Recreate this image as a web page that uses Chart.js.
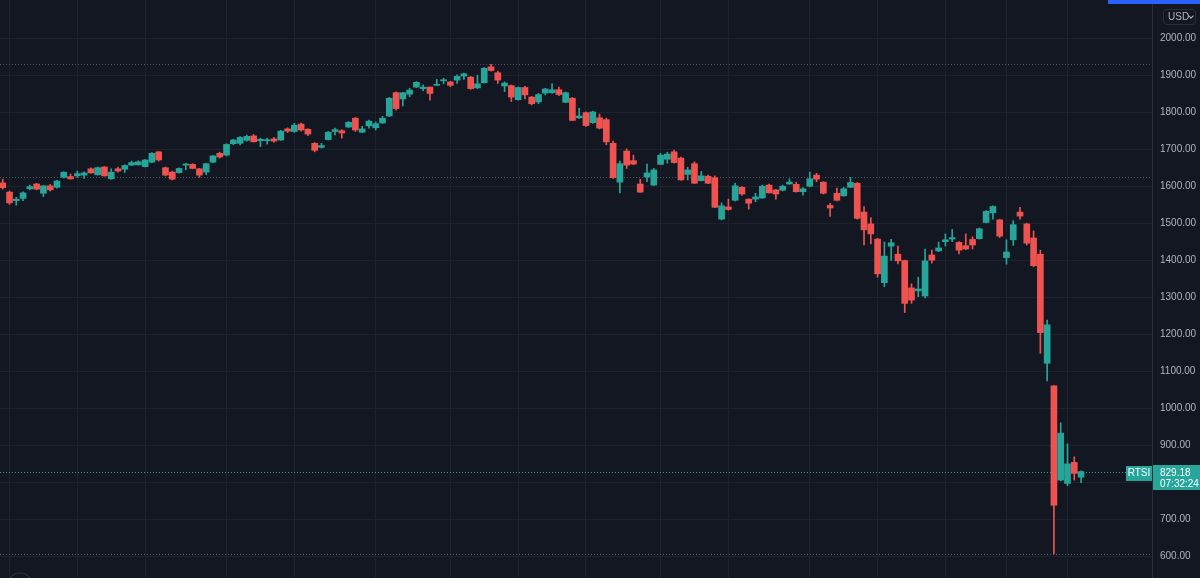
<!DOCTYPE html>
<html>
<head>
  <meta charset="utf-8">
  <title>RTSI</title>
  <script src="https://cdn.jsdelivr.net/npm/chart.js@4.4.0/dist/chart.umd.min.js"></script>
  <style>
    html, body { margin: 0; padding: 0; background: #131722; overflow: hidden; }
    #wrap { position: relative; width: 1200px; height: 578px; }
    #topbar { position: absolute; left: 1108px; top: 0; width: 92px; height: 4px; background: #2962ff; }
    #usd {
      position: absolute; left: 1163px; top: 9px; width: 33px; height: 16px;
      box-sizing: border-box; border: 1px solid #2a2e39; border-radius: 4px;
      color: #b2b5be; font: 10px "Liberation Sans", sans-serif; line-height: 14px; padding-left: 4px;
    }
    #usd i {
      position: absolute; left: 25px; top: 4px; width: 3px; height: 3px;
      border-right: 1px solid #b2b5be; border-bottom: 1px solid #b2b5be; transform: rotate(45deg);
    }
  </style>
</head>
<body>
<div id="wrap">
  <canvas id="chart" width="1200" height="578"></canvas>
  <div id="topbar"></div>
  <div id="usd">USD<i></i></div>
</div>

<script>
  // daily candles, RTSI (USD)
  var open = [1610,1585,1562,1568,1594,1607,1582,1602,1598,1625,1627,1629,1631,1648,1632,1653,1621,1648,1647,1658,
              1659,1654,1666,1694,1651,1639,1638,1658,1660,1648,1639,1666,1690,1685,1716,1717,1725,1737,1724,1724,
              1729,1726,1756,1749,1769,1755,1717,1706,1727,1749,1751,1761,1785,1747,1764,1759,1772,1791,1854,1837,
              1850,1869,1865,1869,1874,1886,1883,1888,1899,1896,1867,1881,1924,1908,1872,1873,1835,1868,1842,1829,
              1853,1854,1862,1828,1839,1786,1800,1773,1786,1781,1717,1612,1696,1670,1607,1626,1604,1660,1674,1694,
              1677,1633,1662,1616,1628,1624,1512,1545,1563,1598,1566,1566,1569,1604,1591,1590,1607,1606,1586,1601,
              1631,1612,1549,1582,1575,1598,1609,1531,1499,1458,1340,1439,1417,1400,1326,1318,1304,1415,1426,1451,
              1458,1449,1440,1457,1459,1503,1529,1510,1408,1456,1531,1499,1461,1417,1122,1061,806,797,854,814];
  var high = [1620,1588,1571,1586,1604,1609,1603,1606,1617,1640,1634,1642,1640,1651,1653,1654,1648,1653,1659,1669,
              1670,1673,1692,1695,1653,1642,1651,1663,1662,1649,1663,1684,1693,1716,1728,1735,1739,1741,1731,1731,
              1733,1752,1759,1771,1772,1757,1719,1717,1749,1758,1754,1776,1787,1763,1780,1775,1790,1841,1856,1855,
              1866,1884,1875,1870,1890,1893,1885,1902,1907,1898,1901,1922,1931,1912,1883,1875,1869,1871,1844,1852,
              1866,1878,1869,1856,1841,1812,1802,1804,1796,1785,1723,1669,1702,1685,1620,1661,1649,1690,1693,1699,
              1680,1652,1667,1641,1631,1629,1556,1566,1609,1600,1567,1582,1604,1607,1592,1604,1621,1612,1597,1639,
              1636,1613,1555,1596,1598,1625,1611,1546,1516,1460,1450,1457,1439,1401,1337,1355,1431,1428,1450,1472,
              1484,1451,1472,1464,1488,1535,1548,1511,1456,1508,1544,1501,1480,1428,1239,1062,961,904,869,831];
  var low = [1593,1552,1550,1562,1591,1591,1573,1588,1596,1623,1620,1625,1622,1636,1631,1628,1620,1639,1638,1657,
             1658,1653,1665,1669,1629,1618,1636,1645,1648,1625,1632,1665,1677,1683,1713,1713,1723,1721,1708,1715,
             1720,1725,1746,1747,1750,1738,1694,1704,1726,1740,1731,1760,1749,1746,1758,1753,1771,1789,1807,1818,
             1843,1868,1859,1834,1873,1878,1870,1879,1890,1863,1865,1880,1912,1879,1857,1830,1834,1837,1821,1824,
             1848,1852,1846,1827,1778,1784,1763,1771,1756,1713,1622,1583,1649,1659,1584,1613,1603,1659,1663,1663,
             1617,1618,1608,1615,1608,1543,1510,1536,1561,1576,1539,1559,1568,1582,1566,1588,1606,1585,1577,1599,
             1613,1580,1519,1561,1574,1597,1512,1442,1445,1355,1329,1400,1391,1259,1284,1302,1299,1393,1424,1439,
             1451,1418,1430,1431,1458,1502,1512,1462,1390,1441,1512,1442,1383,1149,1074,606,804,791,806,799];
  var close = [1597,1556,1566,1583,1600,1593,1602,1591,1615,1639,1621,1635,1637,1637,1651,1629,1639,1642,1657,1665,
               1667,1672,1690,1672,1631,1620,1649,1661,1649,1631,1662,1683,1680,1714,1726,1733,1736,1721,1728,1727,
               1723,1750,1750,1766,1753,1742,1698,1711,1747,1754,1745,1774,1753,1756,1777,1770,1785,1839,1811,1854,
               1861,1882,1869,1852,1876,1889,1874,1898,1905,1865,1878,1920,1914,1888,1880,1842,1868,1848,1824,1849,
               1864,1862,1849,1854,1779,1791,1765,1802,1758,1721,1624,1662,1658,1661,1585,1637,1645,1685,1688,1665,
               1618,1645,1609,1629,1609,1544,1548,1538,1602,1580,1555,1572,1601,1583,1580,1601,1612,1586,1594,1621,
               1620,1582,1542,1563,1594,1611,1514,1483,1472,1364,1412,1448,1399,1284,1293,1323,1399,1401,1434,1456,
               1462,1428,1431,1442,1486,1533,1546,1466,1423,1497,1520,1447,1386,1205,1226,738,933,850,824,829.18];

  // horizontal dotted levels, vertical grid candles, price ticks
  var levels = [1931, 1626, 606];
  var gridIdx = [1, 11, 21, 33, 43, 55, 66, 76, 86, 97, 107, 119, 129, 139, 148, 157];
  var yTicks = [600, 700, 800, 900, 1000, 1100, 1200, 1300, 1400, 1500, 1600, 1700, 1800, 1900, 2000];

  var UP = '#26a69a', DOWN = '#ef5350', GRID = '#1e222d';
  var FONT = '"Liberation Sans", "DejaVu Sans", sans-serif';

  var bodies = [], wicks = [], colors = [];
  for (var i = 0; i < open.length; i++) {
    bodies.push({x: i, y: [open[i], close[i]]});
    wicks.push({x: i, y: [low[i], high[i]]});
    colors.push(close[i] >= open[i] ? UP : DOWN);
  }
  var last = close[close.length - 1];

  var extras = {
    id: 'extras',
    beforeDatasetsDraw: function(chart) {
      var ctx = chart.ctx, a = chart.chartArea, y = chart.scales.y;
      ctx.save();
      ctx.lineWidth = 1;
      ctx.setLineDash([1, 2]);
      ctx.strokeStyle = '#50535e';
      levels.forEach(function(v) {
        var py = Math.round(y.getPixelForValue(v)) + 0.5;
        ctx.beginPath(); ctx.moveTo(a.left, py); ctx.lineTo(a.right, py); ctx.stroke();
      });
      ctx.strokeStyle = UP;
      var lp = Math.round(y.getPixelForValue(last)) + 0.5;
      ctx.beginPath(); ctx.moveTo(a.left, lp); ctx.lineTo(a.right, lp); ctx.stroke();
      ctx.restore();
    },
    afterDraw: function(chart) {
      var ctx = chart.ctx, a = chart.chartArea, y = chart.scales.y;
      var py = Math.round(y.getPixelForValue(last));
      ctx.save();
      ctx.fillStyle = UP;
      ctx.fillRect(a.right - 26, py - 6, 26, 15);
      ctx.fillRect(a.right + 1, py - 7, 47, 25);
      ctx.fillStyle = '#ffffff';
      ctx.font = '10px ' + FONT;
      ctx.textBaseline = 'middle';
      ctx.textAlign = 'center';
      ctx.fillText('RTSI', a.right - 13, py + 1.5);
      ctx.textAlign = 'left';
      ctx.fillText(last.toFixed(2), a.right + 8, py + 1);
      ctx.fillText('07:32:24', a.right + 8, py + 12);
      // logo ring bottom-left
      ctx.strokeStyle = '#262a35';
      ctx.lineWidth = 1.5;
      ctx.beginPath(); ctx.arc(20, 585, 12, 0, Math.PI * 2); ctx.stroke();
      ctx.restore();
    }
  };

  new Chart(document.getElementById('chart'), {
    type: 'bar',
    data: {
      datasets: [
        {
          data: bodies,
          backgroundColor: colors,
          barThickness: 6,
          minBarLength: 1,
          grouped: false,
          order: 0
        },
        {
          data: wicks,
          backgroundColor: colors,
          barThickness: 1,
          grouped: false,
          order: 1
        }
      ]
    },
    options: {
      responsive: false,
      animation: false,
      devicePixelRatio: 1,
      layout: { padding: 0 },
      plugins: { legend: { display: false }, tooltip: { enabled: false } },
      scales: {
        x: {
          type: 'linear',
          min: -0.4,
          max: 169.46,
          offset: false,
          ticks: { display: false },
          border: { display: false },
          grid: { color: GRID, drawTicks: false, offset: false },
          afterBuildTicks: function(s) { s.ticks = gridIdx.map(function(v) { return {value: v}; }); },
          afterFit: function(s) { s.height = 0; }
        },
        y: {
          position: 'right',
          min: 541.2,
          max: 2104.7,
          ticks: {
            color: '#b2b5be',
            padding: 8,
            font: { family: FONT, size: 10 },
            callback: function(v) { return v.toFixed(2); }
          },
          afterBuildTicks: function(s) { s.ticks = yTicks.map(function(v) { return {value: v}; }); },
          grid: { color: GRID, drawTicks: false },
          border: { display: true, color: '#2a2e39' },
          afterFit: function(s) { s.width = 48; s.paddingTop = 0; s.paddingBottom = 0; }
        }
      }
    },
    plugins: [extras]
  });
</script>
</body>
</html>
